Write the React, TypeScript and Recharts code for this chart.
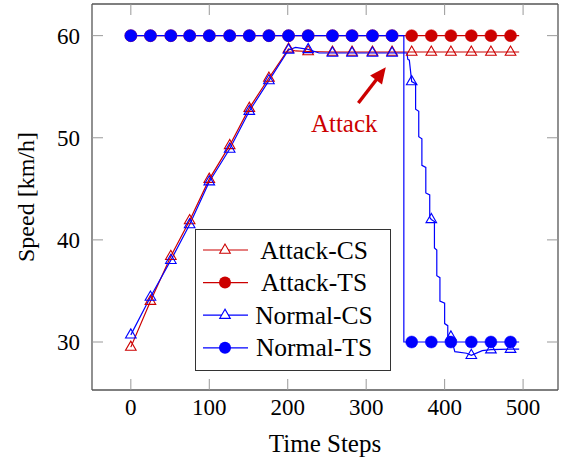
import { LineChart, Line, XAxis, YAxis, Legend, ReferenceLine, ReferenceDot } from 'recharts'

const RED = '#cc0000'
const BLUE = '#0000ff'
const FONT = '"Liberation Serif", "Times New Roman", serif'

// x positions where the markers sit
const MARK_X = [0, 25, 51, 75, 100, 126, 151, 176, 201, 226, 257, 282, 308, 333, 358, 383, 408, 434, 459, 484]

const ATTACK_CS_X = [0, 25, 51, 75, 100, 126, 151, 176, 201, 210, 226, 257, 282, 308, 333, 358, 383, 408, 434, 459, 484, 495]
const ATTACK_CS_Y = [
  29.5, 34.0, 38.4, 41.9, 45.95, 49.25, 52.9, 55.85, 58.7, 58.5, 58.45,
  58.4, 58.4, 58.4, 58.4, 58.4, 58.4, 58.4, 58.4, 58.4, 58.4, 58.4,
]

const ATTACK_TS_X = [0, 25, 51, 75, 100, 126, 151, 176, 201, 226, 257, 282, 308, 333, 358, 383, 408, 434, 459, 484, 495]
const ATTACK_TS_Y = [60, 60, 60, 60, 60, 60, 60, 60, 60, 60, 60, 60, 60, 60, 60, 60, 60, 60, 60, 60, 60]

const NORMAL_CS_X = [
  0, 25, 51, 75, 100, 126, 151, 176, 201, 210,
  226, 240, 257, 282, 308, 333, 348, 352, 353, 355,
  358, 363, 363, 367, 367, 371, 371, 376, 376, 381,
  381, 383, 387, 387, 390, 390, 394, 394, 400, 400,
  404, 404, 408, 413, 428, 434, 448, 459, 484, 495,
]
const NORMAL_CS_Y = [
  30.7, 34.4, 38.0, 41.5, 45.7, 48.9, 52.6, 55.6, 58.6, 58.85,
  58.65, 58.3, 58.3, 58.3, 58.3, 58.3, 58.3, 58.3, 57.7, 57.6,
  55.5, 55.3, 52.8, 52.6, 50.1, 49.9, 47.3, 47.1, 44.6, 44.4,
  42.2, 42.0, 41.8, 39.2, 39.0, 36.5, 36.3, 34.0, 33.8, 31.8,
  31.6, 30.6, 30.5, 29.05, 28.9, 28.7, 29.15, 29.25, 29.3, 29.3,
]

const NORMAL_TS_X = [0, 25, 51, 75, 100, 126, 151, 176, 201, 226, 257, 282, 308, 333, 348, 348, 358, 383, 408, 434, 459, 484, 495]
const NORMAL_TS_Y = [60, 60, 60, 60, 60, 60, 60, 60, 60, 60, 60, 60, 60, 60, 60, 30, 30, 30, 30, 30, 30, 30, 30]

const X_TICKS = [0, 100, 200, 300, 400, 500]
const Y_TICKS = [30, 40, 50, 60]

const LEGEND_NAMES = ['Attack-CS', 'Attack-TS', 'Normal-CS', 'Normal-TS']

const toPoints = (xs: number[], ys: number[]) =>
  xs.map((x, i) => ({ x, y: ys[i], m: MARK_X.includes(x) }))

const attackCs = toPoints(ATTACK_CS_X, ATTACK_CS_Y)
const attackTs = toPoints(ATTACK_TS_X, ATTACK_TS_Y)
const normalCs = toPoints(NORMAL_CS_X, NORMAL_CS_Y)
const normalTs = toPoints(NORMAL_TS_X, NORMAL_TS_Y)

const triPoints = (cx: number, cy: number) =>
  `${cx},${cy - 6} ${cx - 5.3},${cy + 3.2} ${cx + 5.3},${cy + 3.2}`

const triangleDot = (color: string) => (props: any) => {
  const { cx, cy, payload, index } = props
  if (!payload?.m) return <g key={index} />
  return <polygon key={index} points={triPoints(cx, cy)} fill="none" stroke={color} strokeWidth={1.1} />
}

const circleDot = (color: string) => (props: any) => {
  const { cx, cy, payload, index } = props
  if (!payload?.m) return <g key={index} />
  return <circle key={index} cx={cx} cy={cy} r={6} fill={color} stroke={color} strokeWidth={0.5} />
}

const Arrow = (props: any) => {
  const { x1, y1, x2, y2 } = props
  const dx = x2 - x1
  const dy = y2 - y1
  const len = Math.sqrt(dx * dx + dy * dy)
  const ux = dx / len
  const uy = dy / len
  const head = 16
  const half = 7.5
  const bx = x2 - ux * head
  const by = y2 - uy * head
  return (
    <g>
      <line x1={x1} y1={y1} x2={bx + ux * 2} y2={by + uy * 2} stroke={RED} strokeWidth={3.4} />
      <polygon
        points={`${x2},${y2} ${bx - uy * half},${by + ux * half} ${bx + uy * half},${by - ux * half}`}
        fill={RED}
      />
    </g>
  )
}

const LegendBox = () => {
  const colors = [RED, RED, BLUE, BLUE]
  return (
    <svg width={196} height={142} style={{ display: 'block' }}>
      <rect x={0.5} y={0.5} width={195} height={141} fill="#fff" stroke="#333" strokeWidth={1} />
      {LEGEND_NAMES.map((name, i) => {
        const cy = 21 + i * 32.6
        return (
          <g key={name}>
            <line x1={8} y1={cy} x2={53} y2={cy} stroke={colors[i]} strokeWidth={1.2} />
            {i % 2 === 0 ? (
              <polygon points={triPoints(30, cy)} fill="#fff" stroke={colors[i]} strokeWidth={1.1} />
            ) : (
              <circle cx={30} cy={cy} r={6} fill={colors[i]} />
            )}
            <text x={119} y={cy + 8.5} textAnchor="middle" fontSize={25.5} fontFamily={FONT} fill="#000">
              {name}
            </text>
          </g>
        )
      })}
    </svg>
  )
}

export default function App() {
  return (
    <div style={{ position: 'absolute', left: 0, top: 0 }}>
      <LineChart
        width={566}
        height={461}
        margin={{ top: 3, right: 7, bottom: 0, left: 0 }}
        style={{ fontFamily: FONT }}
      >
        <XAxis
          type="number"
          dataKey="x"
          domain={[-49.5, 544.5]}
          ticks={X_TICKS}
          allowDataOverflow
          height={71}
          tickSize={-11}
          tickMargin={20}
          axisLine={{ stroke: '#555', strokeWidth: 1.3 }}
          tickLine={{ stroke: '#999' }}
          tick={{ fill: '#000', fontSize: 23 }}
          label={{ value: 'Time Steps', position: 'insideBottom', offset: 9, fill: '#000', fontSize: 25 }}
        />
        <XAxis
          xAxisId="top"
          orientation="top"
          type="number"
          dataKey="x"
          domain={[-49.5, 544.5]}
          ticks={X_TICKS}
          allowDataOverflow
          height={1}
          tickSize={-11}
          tickFormatter={() => ''}
          axisLine={{ stroke: '#555', strokeWidth: 1.3 }}
          tickLine={{ stroke: '#999' }}
        />
        <YAxis
          type="number"
          domain={[25.3, 63.1]}
          ticks={Y_TICKS}
          allowDataOverflow
          width={92}
          tickSize={-11}
          tickMargin={23}
          axisLine={{ stroke: '#555', strokeWidth: 1.3 }}
          tickLine={{ stroke: '#999' }}
          tick={{ fill: '#000', fontSize: 23 }}
          label={{
            value: 'Speed [km/h]',
            angle: -90,
            position: 'insideLeft',
            offset: 25,
            fill: '#000',
            fontSize: 24,
            style: { textAnchor: 'middle' },
          }}
        />
        <YAxis
          yAxisId="right"
          orientation="right"
          type="number"
          domain={[25.3, 63.1]}
          ticks={Y_TICKS}
          allowDataOverflow
          width={1}
          tickSize={-11}
          tickFormatter={() => ''}
          axisLine={{ stroke: '#555', strokeWidth: 1.3 }}
          tickLine={{ stroke: '#999' }}
        />
        <Line
          data={attackCs}
          dataKey="y"
          name="Attack-CS"
          type="linear"
          stroke={RED}
          strokeWidth={1.2}
          dot={triangleDot(RED)}
          activeDot={false}
          isAnimationActive={false}
        />
        <Line
          data={attackTs}
          dataKey="y"
          name="Attack-TS"
          type="linear"
          stroke={RED}
          strokeWidth={1.2}
          dot={circleDot(RED)}
          activeDot={false}
          isAnimationActive={false}
        />
        <Line
          data={normalCs}
          dataKey="y"
          name="Normal-CS"
          type="linear"
          stroke={BLUE}
          strokeWidth={1.2}
          dot={triangleDot(BLUE)}
          activeDot={false}
          isAnimationActive={false}
        />
        <Line
          data={normalTs}
          dataKey="y"
          name="Normal-TS"
          type="linear"
          stroke={BLUE}
          strokeWidth={1.2}
          dot={circleDot(BLUE)}
          activeDot={false}
          isAnimationActive={false}
        />
        <ReferenceLine
          segment={[
            { x: 290, y: 53.4 },
            { x: 325, y: 56.9 },
          ]}
          shape={Arrow}
        />
        <ReferenceDot
          x={272}
          y={50.6}
          r={0}
          shape={(p: any) => (
            <text x={p.cx} y={p.cy} textAnchor="middle" fontSize={25} fontFamily={FONT} fill={RED}>
              Attack
            </text>
          )}
        />
        <Legend
          layout="vertical"
          align="center"
          verticalAlign="middle"
          content={() => <LegendBox />}
          wrapperStyle={{ left: 195, top: 229, width: 196, height: 142 }}
        />
      </LineChart>
    </div>
  )
}
